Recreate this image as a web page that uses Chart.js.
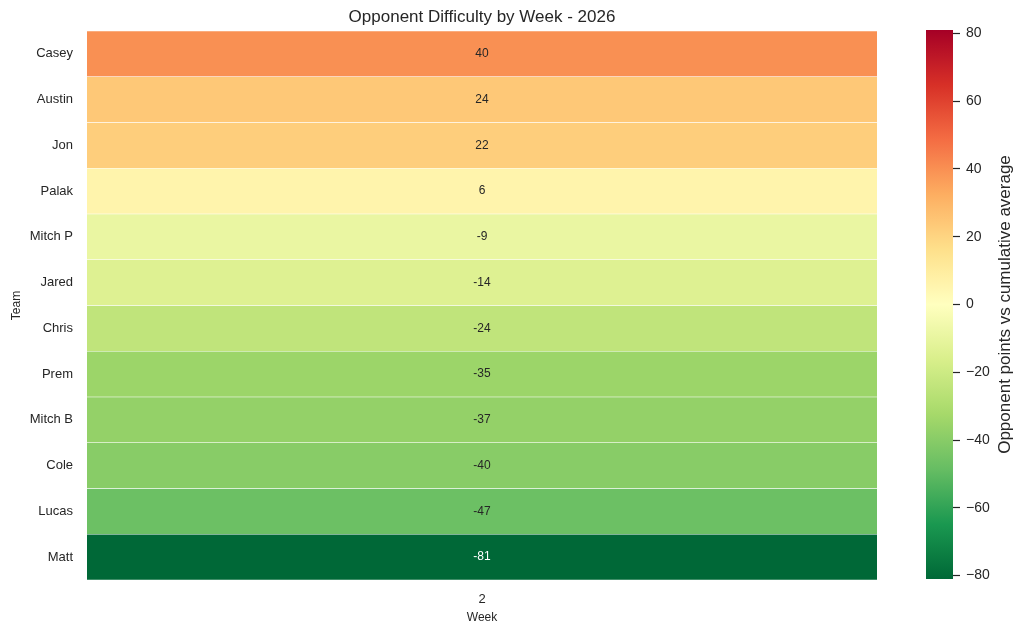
<!DOCTYPE html>
<html>
<head>
<meta charset="utf-8">
<script src="https://cdn.jsdelivr.net/npm/chart.js@4.4.1/dist/chart.umd.min.js"></script>
<style>
  body { margin: 0; background: #fff; }
  #wrap { position: relative; width: 1022px; height: 634px; }
  canvas { position: absolute; top: 0; }
</style>
</head>
<body>
<div id="wrap">
  <canvas id="heat" width="1022" height="634" style="left:0"></canvas>
  <canvas id="cbar" width="122" height="634" style="left:900px"></canvas>
</div>
<script>
const teams = ["Casey", "Austin", "Jon", "Palak", "Mitch P", "Jared", "Chris", "Prem", "Mitch B", "Cole", "Lucas", "Matt"];
const weeks = ["2"];
const week2 = [40, 24, 22, 6, -9, -14, -24, -35, -37, -40, -47, -81];
const cbarTicks = [-80, -60, -40, -20, 0, 20, 40, 60, 80];

const TEXT = "#262626";
const FONT = "'Liberation Sans', Arial, sans-serif";

// RdYlGn reversed: green for low, red for high
const stops = ["#006837", "#1a9850", "#66bd63", "#a6d96a", "#d9ef8b", "#ffffbf",
               "#fee08b", "#fdae61", "#f46d43", "#d73027", "#a50026"];
const vmax = Math.max(...week2.map(Math.abs));
const vmin = -vmax;

function hexRgb(h) {
  return [1, 3, 5].map(i => parseInt(h.substr(i, 2), 16));
}
function colorFor(v) {
  let t = (v - vmin) / (vmax - vmin);
  t = Math.min(1, Math.max(0, t)) * (stops.length - 1);
  const i = Math.min(stops.length - 2, Math.floor(t));
  const f = t - i;
  const a = hexRgb(stops[i]), b = hexRgb(stops[i + 1]);
  return a.map((c, k) => Math.round(c + (b[k] - c) * f));
}
function rgbStr(c) { return "rgb(" + c.join(",") + ")"; }
function luminance(c) {
  const l = c.map(x => {
    x /= 255;
    return x <= 0.03928 ? x / 12.92 : Math.pow((x + 0.055) / 1.055, 2.4);
  });
  return 0.2126 * l[0] + 0.7152 * l[1] + 0.0722 * l[2];
}

// cell values written in the middle of each bar
const annotate = {
  id: "annotate",
  afterDatasetsDraw(chart) {
    const ctx = chart.ctx;
    const meta = chart.getDatasetMeta(0);
    ctx.save();
    ctx.font = "12px " + FONT;
    ctx.textAlign = "center";
    ctx.textBaseline = "middle";
    meta.data.forEach((bar, i) => {
      const c = colorFor(week2[i]);
      ctx.fillStyle = luminance(c) > 0.2 ? TEXT : "#ffffff";
      const x = (bar.x + bar.base) / 2;
      ctx.fillText(String(week2[i]), x, bar.y);
    });
    ctx.restore();
  }
};

// title centred over the plot area
const topTitle = {
  id: "topTitle",
  afterDraw(chart) {
    const a = chart.chartArea;
    const ctx = chart.ctx;
    ctx.save();
    ctx.font = "17px " + FONT;
    ctx.fillStyle = TEXT;
    ctx.textAlign = "center";
    ctx.textBaseline = "middle";
    ctx.fillText("Opponent Difficulty by Week - 2026", (a.left + a.right) / 2, 17);
    ctx.restore();
  }
};

new Chart(document.getElementById("heat"), {
  type: "bar",
  data: {
    labels: teams,
    datasets: [{
      data: week2.map(() => [0, weeks.length]),
      backgroundColor: week2.map(v => rgbStr(colorFor(v))),
      borderColor: "#ffffff",
      borderWidth: { top: 0.5, bottom: 0.5, left: 0, right: 0 },
      borderSkipped: false,
      barPercentage: 1,
      categoryPercentage: 1
    }]
  },
  options: {
    indexAxis: "y",
    responsive: false,
    animation: false,
    layout: { padding: { top: 31, right: 145, left: 0, bottom: 0 } },
    plugins: { legend: { display: false }, tooltip: { enabled: false } },
    scales: {
      x: {
        type: "linear",
        min: 0,
        max: weeks.length,
        grid: { display: false },
        border: { display: false },
        afterBuildTicks: axis => { axis.ticks = weeks.map((w, i) => ({ value: i + 0.5 })); },
        afterFit: axis => { axis.height = 54; },
        ticks: {
          color: TEXT,
          font: { family: FONT, size: 13 },
          padding: 4,
          maxRotation: 0,
          callback: (v, i) => weeks[i]
        },
        title: {
          display: true,
          text: "Week",
          color: TEXT,
          font: { family: FONT, size: 12 },
          padding: { top: 2, bottom: 9 }
        }
      },
      y: {
        type: "category",
        offset: true,
        grid: { display: false },
        border: { display: false },
        afterFit: axis => { axis.width = 87; },
        ticks: {
          color: TEXT,
          font: { family: FONT, size: 13 },
          padding: 6
        },
        title: {
          display: true,
          text: "Team",
          color: TEXT,
          font: { family: FONT, size: 12 },
          padding: { top: 9, bottom: 0 }
        }
      }
    }
  },
  plugins: [annotate, topTitle]
});

// colour bar painted into the chart area of a second chart
const gradientFill = {
  id: "gradientFill",
  beforeDatasetsDraw(chart) {
    const a = chart.chartArea;
    const ys = chart.scales.y;
    const ctx = chart.ctx;
    const g = ctx.createLinearGradient(0, ys.getPixelForValue(vmin), 0, ys.getPixelForValue(vmax));
    for (let k = 0; k <= 40; k++) {
      const v = vmin + (vmax - vmin) * k / 40;
      g.addColorStop(k / 40, rgbStr(colorFor(v)));
    }
    ctx.save();
    ctx.fillStyle = g;
    ctx.fillRect(a.left, a.top, a.right - a.left, a.bottom - a.top);
    ctx.restore();
  },
  afterDraw(chart) {
    const a = chart.chartArea;
    const ctx = chart.ctx;
    ctx.save();
    ctx.translate(105, (a.top + a.bottom) / 2);
    ctx.rotate(-Math.PI / 2);
    ctx.font = "17px " + FONT;
    ctx.fillStyle = TEXT;
    ctx.textAlign = "center";
    ctx.textBaseline = "middle";
    ctx.fillText("Opponent points vs cumulative average", 0, 0);
    ctx.restore();
  }
};

new Chart(document.getElementById("cbar"), {
  type: "bar",
  data: { labels: [""], datasets: [{ data: [null] }] },
  options: {
    responsive: false,
    animation: false,
    layout: { padding: { top: 30, bottom: 55, left: 26, right: 0 } },
    plugins: { legend: { display: false }, tooltip: { enabled: false } },
    scales: {
      x: { display: false },
      y: {
        position: "right",
        min: vmin,
        max: vmax,
        afterBuildTicks: axis => { axis.ticks = cbarTicks.map(v => ({ value: v })); },
        afterFit: axis => { axis.width = 69; },
        grid: {
          display: true,
          drawOnChartArea: false,
          drawTicks: true,
          tickLength: 7,
          tickWidth: 1.2,
          color: TEXT
        },
        border: { display: false },
        ticks: {
          color: TEXT,
          font: { family: FONT, size: 14 },
          padding: 6,
          callback: v => String(v).replace("-", "\u2212")
        }
      }
    }
  },
  plugins: [gradientFill]
});
</script>
</body>
</html>
